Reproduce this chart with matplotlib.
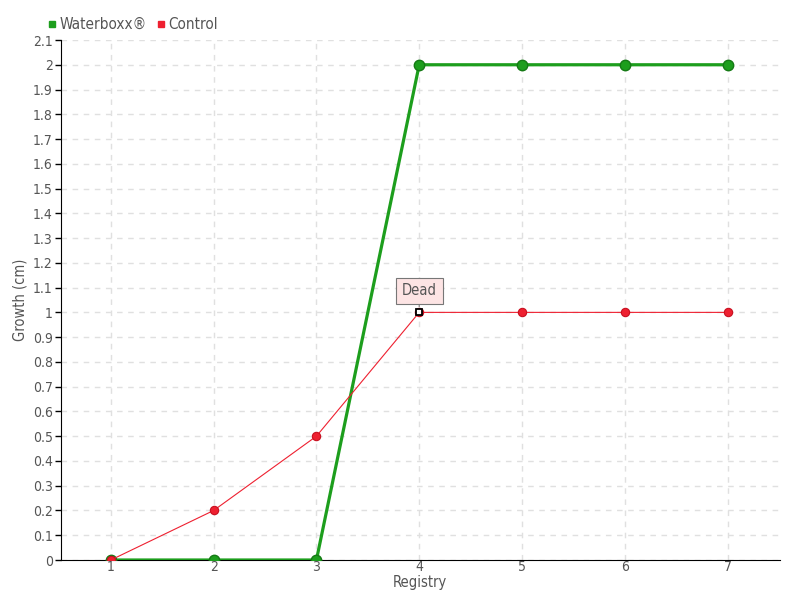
import matplotlib
matplotlib.use("Agg")
import matplotlib.pyplot as plt
from matplotlib.lines import Line2D

registry = [1, 2, 3, 4, 5, 6, 7]
waterboxx = [0, 0, 0, 2, 2, 2, 2]
control = [0, 0.2, 0.5, 1, 1, 1, 1]
yticks = [round(0.1 * i, 1) for i in range(22)]
ytick_labels = ["0"] + [("%g" % v) for v in yticks[1:]]

green = "#1d9e1d"
red = "#ee2030"
txt = "#555555"
plt.rcParams['font.family'] = ['DejaVu Sans']
plt.rcParams['font.stretch'] = 'condensed'

fig = plt.figure(figsize=(8, 6), dpi=100)
ax = fig.add_axes([61/800, 40/600, 719/800, 520/600])

ax.plot(registry, waterboxx, color=green, lw=2.3, marker='o', ms=7.5,
        mfc=green, mec="#157a15", mew=1.0, zorder=3)
ax.plot(registry, control, color=red, lw=0.8, marker='o', ms=6,
        mfc=red, mec="#c81020", mew=0.8, zorder=4)
# highlighted point
ax.plot([registry[3]], [control[3]], marker='s', ms=4.5, mfc='white', mec='black', mew=1.3, zorder=6)

ax.set_xlim(0.515, 7.51)
ax.set_ylim(0, 2.1)
ax.set_xticks(registry)
ax.set_yticks(yticks)
ax.set_yticklabels(ytick_labels)
ax.tick_params(axis='both', colors=txt, labelsize=10, length=4, width=1, direction='out')
ax.tick_params(axis='x', length=0, pad=0)
ax.tick_params(axis='y', color='black', pad=2)
for s in ['top', 'right']:
    ax.spines[s].set_visible(False)
ax.spines['left'].set_color('black')
ax.spines['bottom'].set_color('black')
ax.grid(True, color='#e0e0e0', ls=(0, (4, 4)), lw=1)
ax.set_axisbelow(True)

ax.set_xlabel("Registry", color=txt, fontsize=10.5)
ax.xaxis.set_label_coords((420 - 61) / 719, -0.029)
ax.xaxis.label.set_va('top')
ax.set_ylabel("Growth (cm)", color=txt, fontsize=10.5)
ax.yaxis.set_label_coords(-0.047, (560 - 300) / 520)

ax.annotate("Dead", xy=(registry[3], control[3]), xytext=(0, 15.5), textcoords='offset points',
            ha='center', va='center', color=txt, fontsize=10.5,
            bbox=dict(boxstyle='square,pad=0.4', fc='#fde4e4', ec='#777777', lw=0.8),
            arrowprops=dict(arrowstyle='-', color='#777777', lw=0.8, shrinkA=0, shrinkB=4),
            zorder=7)

handles = [Line2D([], [], ls='none', marker='s', ms=5, color=green),
           Line2D([], [], ls='none', marker='s', ms=5, color=red)]
leg = fig.legend(handles, ["Waterboxx®", "Control"], loc='upper left', bbox_to_anchor=(0.052, 0.982),
                 ncol=2, frameon=False, handlelength=0.6, handletextpad=0.2, columnspacing=0.6,
                 fontsize=11, borderaxespad=0)
for t in leg.get_texts():
    t.set_color(txt)

fig.savefig("out.png", dpi=100)
